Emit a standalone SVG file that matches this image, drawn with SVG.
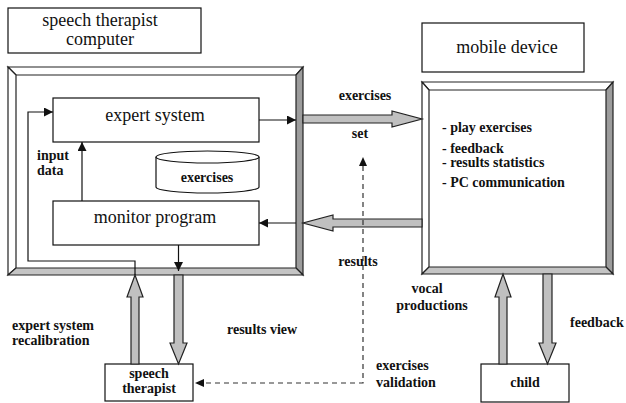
<svg xmlns="http://www.w3.org/2000/svg" width="626" height="403" viewBox="0 0 626 403" font-family="'Liberation Serif', 'Times New Roman', Times, serif">
  <style>
    .box { fill: #fff; stroke: #111; stroke-width: 1.2; }
    text { font-family: 'Liberation Serif', 'Times New Roman', Times, serif; }
    .title { font-size: 18px; fill: #111; }
    .lbl { font-size: 14px; font-weight: bold; fill: #111; }
    .bev-light { fill: #fff; stroke: #222; stroke-width: 1.2; stroke-linejoin: miter; }
    .bev-dark { fill: #9c9c9c; stroke: #222; stroke-width: 1.2; }
    .bev-mid { fill: #c4c4c4; stroke: #222; stroke-width: 1.2; }
    .wide { fill: #c0c0c0; stroke: #222; stroke-width: 1.2; stroke-linejoin: miter; }
    .thin { fill: none; stroke: #111; stroke-width: 1.2; }
    .dash { fill: none; stroke: #333; stroke-width: 1.2; stroke-dasharray: 5 4; }
  </style>
  <defs>
    <marker id="tip" viewBox="0 0 10 10" refX="10" refY="5" markerWidth="9" markerHeight="9" markerUnits="userSpaceOnUse" orient="auto">
      <path d="M0,0 L10,5 L0,10 Z" fill="#111"/>
    </marker>
  </defs>

  <rect width="626" height="403" fill="#fff"/>

  <!-- captions above the two machines -->
  <g id="caption-computer">
    <rect class="box" x="8" y="8" width="193" height="45"/>
    <text class="title" x="100" y="26" text-anchor="middle">speech therapist</text>
    <text class="title" x="100" y="45" text-anchor="middle">computer</text>
  </g>
  <g id="caption-mobile">
    <rect class="box" x="422" y="23" width="162" height="49"/>
    <text class="title" x="507" y="53" text-anchor="middle">mobile device</text>
  </g>

  <!-- speech therapist computer frame (bevelled) -->
  <g id="computer-frame">
    <rect x="16" y="75" width="280" height="193" fill="#fff"/>
    <polygon class="bev-light" points="8,67 303,67 296,75 16,75"/>
    <polygon class="bev-light" points="8,67 16,75 16,268 8,275"/>
    <polygon class="bev-dark" points="303,67 303,275 296,268 296,75"/>
    <polygon class="bev-mid" points="8,275 303,275 296,268 16,268"/>
  </g>

  <!-- mobile device frame (bevelled) -->
  <g id="mobile-frame">
    <rect x="429" y="90" width="177" height="177" fill="#fff"/>
    <polygon class="bev-light" points="422,82 613,82 606,90 429,90"/>
    <polygon class="bev-light" points="422,82 429,90 429,267 422,274"/>
    <polygon class="bev-dark" points="613,82 613,274 606,267 606,90"/>
    <polygon class="bev-mid" points="422,274 613,274 606,267 429,267"/>
    <text class="lbl" x="442" y="132">- play exercises</text>
    <text class="lbl" x="442" y="153">- feedback</text>
    <text class="lbl" x="442" y="167">- results statistics</text>
    <text class="lbl" x="442" y="187">- PC communication</text>
  </g>

  <g id="expert-system">
    <rect class="box" x="53" y="98" width="206" height="44"/>
    <text class="title" x="155" y="121" text-anchor="middle">expert system</text>
  </g>

  <g id="monitor-program">
    <rect class="box" x="53" y="201" width="206" height="44"/>
    <text class="title" x="155" y="223" text-anchor="middle">monitor program</text>
  </g>

  <g id="exercises-store">
    <path class="box" d="M156,157 V187 A51.5,6 0 0 0 259,187 V157"/>
    <ellipse class="box" cx="207.5" cy="157" rx="51.5" ry="6"/>
    <text class="lbl" x="207" y="182" text-anchor="middle">exercises</text>
  </g>

  <g id="speech-therapist">
    <rect class="box" x="105" y="364" width="88" height="37"/>
    <text class="lbl" x="149" y="378" text-anchor="middle">speech</text>
    <text class="lbl" x="149" y="393" text-anchor="middle">therapist</text>
  </g>

  <g id="child">
    <rect class="box" x="481" y="364" width="88" height="38"/>
    <text class="lbl" x="525" y="387" text-anchor="middle">child</text>
  </g>

  <g id="connectors">
    <!-- wide transfer arrows -->
    <polygon class="wide" points="303,115 392,115 392,111 422,119 392,127 392,123 303,123"/>
    <polygon class="wide" points="422,219 333,219 333,215 303,223 333,231 333,227 422,227"/>
    <polygon class="wide" points="131,364 131,297 127,297 135,275 143,297 139,297 139,364"/>
    <polygon class="wide" points="174,275 174,343 170,343 178.5,364 187,343 183,343 183,275"/>
    <polygon class="wide" points="499,364 499,297 495,297 503,274 511,297 507,297 507,364"/>
    <polygon class="wide" points="543,274 543,343 539,343 547.5,364 556,343 552,343 552,274"/>

    <!-- thin internal links -->
    <line class="thin" x1="259" y1="120" x2="296" y2="120" marker-end="url(#tip)"/>
    <line class="thin" x1="296" y1="223" x2="259" y2="223" marker-end="url(#tip)"/>
    <line class="thin" x1="82" y1="201" x2="82" y2="142" marker-end="url(#tip)"/>
    <line class="thin" x1="178.5" y1="245" x2="178.5" y2="271" marker-end="url(#tip)"/>
    <path class="thin" d="M135,275 V261 H28 V112 H53" marker-end="url(#tip)"/>

    <!-- validation path -->
    <path class="dash" d="M363,166 V383 H196"/>
    <path d="M363,157 L359,166 L367,166 Z" fill="#111"/>
    <path d="M195,383 L204,379 L204,387 Z" fill="#111"/>
  </g>

  <!-- connector labels -->
  <g id="labels">
    <text class="lbl" x="37" y="160">input</text>
    <text class="lbl" x="37" y="175">data</text>
    <text class="lbl" x="365" y="100" text-anchor="middle">exercises</text>
    <text class="lbl" x="360" y="138" text-anchor="middle">set</text>
    <text class="lbl" x="358" y="266" text-anchor="middle">results</text>
    <text class="lbl" x="427" y="293" text-anchor="middle">vocal</text>
    <text class="lbl" x="432" y="310" text-anchor="middle">productions</text>
    <text class="lbl" x="570" y="327">feedback</text>
    <text class="lbl" x="12" y="330">expert system</text>
    <text class="lbl" x="12" y="345">recalibration</text>
    <text class="lbl" x="227" y="334">results view</text>
    <text class="lbl" x="376" y="370">exercises</text>
    <text class="lbl" x="376" y="387">validation</text>
  </g>
</svg>
